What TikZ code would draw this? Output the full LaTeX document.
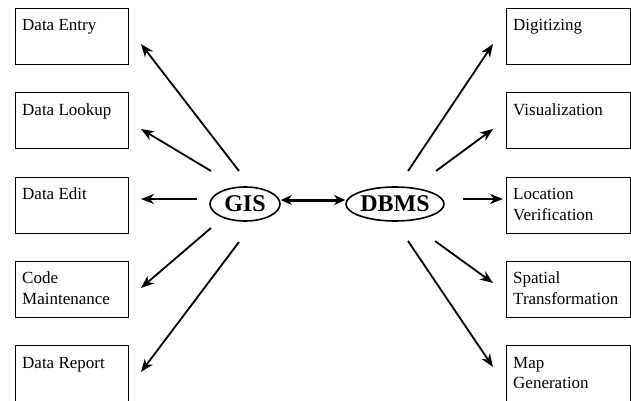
\documentclass[tikz,border=0pt]{standalone}
\usepackage{fontspec}
\setmainfont{Liberation Serif}
\usetikzlibrary{shapes.geometric,arrows.meta}
\tikzset{
  box/.style={draw, line width=1.1pt, rectangle, inner sep=0pt, anchor=north west, minimum height=56pt},
  lbox/.style={box, minimum width=113pt},
  rbox/.style={box, minimum width=123.5pt},
  lbl/.style={anchor=base west, inner sep=0pt, align=left, font=\fontsize{17}{20.5}\selectfont},
  hub/.style={draw, ellipse, line width=1.6pt, inner sep=0pt, minimum height=34pt, font=\fontsize{24}{28}\selectfont\bfseries},
  arr/.style={line width=1.8pt, -{Stealth[length=13pt,width=10pt,inset=4pt]}},
  darr/.style={line width=3pt, {Stealth[length=11pt,width=10pt,inset=3.5pt]}-{Stealth[length=11pt,width=10pt,inset=3.5pt]}},
}
\begin{document}
\begin{tikzpicture}[x=1pt,y=-1pt]
\clip (0,0) rectangle (631,401);
% left boxes
\node[lbox] (b1) at (15,8) {};
\node[lbox] (b2) at (15,92.25) {};
\node[lbox] (b3) at (15,176.5) {};
\node[lbox] (b4) at (15,260.75) {};
\node[lbox] (b5) at (15,345) {};
\node[lbl] (t1) at ([shift={(7,23)}]b1.north west) {Data Entry};
\node[lbl] (t2) at ([shift={(7,23)}]b2.north west) {Data Lookup};
\node[lbl] (t3) at ([shift={(7,23)}]b3.north west) {Data Edit};
\node[lbl] (t4) at ([shift={(7,43.5)}]b4.north west) {Code\\Maintenance};
\node[lbl] (t5) at ([shift={(7,23)}]b5.north west) {Data Report};
% right boxes
\node[rbox] (c1) at (506,8) {};
\node[rbox] (c2) at (506,92.25) {};
\node[rbox] (c3) at (506,176.5) {};
\node[rbox] (c4) at (506,260.75) {};
\node[rbox] (c5) at (506,345) {};
\node[lbl] (u1) at ([shift={(7,23)}]c1.north west) {Digitizing};
\node[lbl] (u2) at ([shift={(7,23)}]c2.north west) {Visualization};
\node[lbl] (u3) at ([shift={(7,43.5)}]c3.north west) {Location\\Verification};
\node[lbl] (u4) at ([shift={(7,43.5)}]c4.north west) {Spatial\\Transformation};
\node[lbl] (u5) at ([shift={(7,43.5)}]c5.north west) {Map\\Generation};
% hubs
\node[hub, minimum width=70pt] (gis) at (245,204) {GIS};
\node[hub, minimum width=86pt] (dbms) at (395,204) {DBMS};
\draw[darr] (gis.east |- 0,200) -- (dbms.west |- 0,200);
% GIS arrow coordinates
\coordinate (g1s) at (239,171); \coordinate (g1e) at (141,44);
\coordinate (g2s) at (211,171); \coordinate (g2e) at (141,129);
\coordinate (g3s) at (197,199); \coordinate (g3e) at (141,199);
\coordinate (g4s) at (211,228); \coordinate (g4e) at (141,288);
\coordinate (g5s) at (239,242); \coordinate (g5e) at (141,372);
\draw[arr] (g1s) -- (g1e);
\draw[arr] (g2s) -- (g2e);
\draw[arr] (g3s) -- (g3e);
\draw[arr] (g4s) -- (g4e);
\draw[arr] (g5s) -- (g5e);
% DBMS arrow coordinates
\coordinate (d1s) at (408,171); \coordinate (d1e) at (493,44);
\coordinate (d2s) at (436,171); \coordinate (d2e) at (493,129);
\coordinate (d3s) at (463,199); \coordinate (d3e) at (503,199);
\coordinate (d4s) at (435,241); \coordinate (d4e) at (493,283);
\coordinate (d5s) at (408,241); \coordinate (d5e) at (493,367);
\draw[arr] (d1s) -- (d1e);
\draw[arr] (d2s) -- (d2e);
\draw[arr] (d3s) -- (d3e);
\draw[arr] (d4s) -- (d4e);
\draw[arr] (d5s) -- (d5e);
\end{tikzpicture}
\end{document}
